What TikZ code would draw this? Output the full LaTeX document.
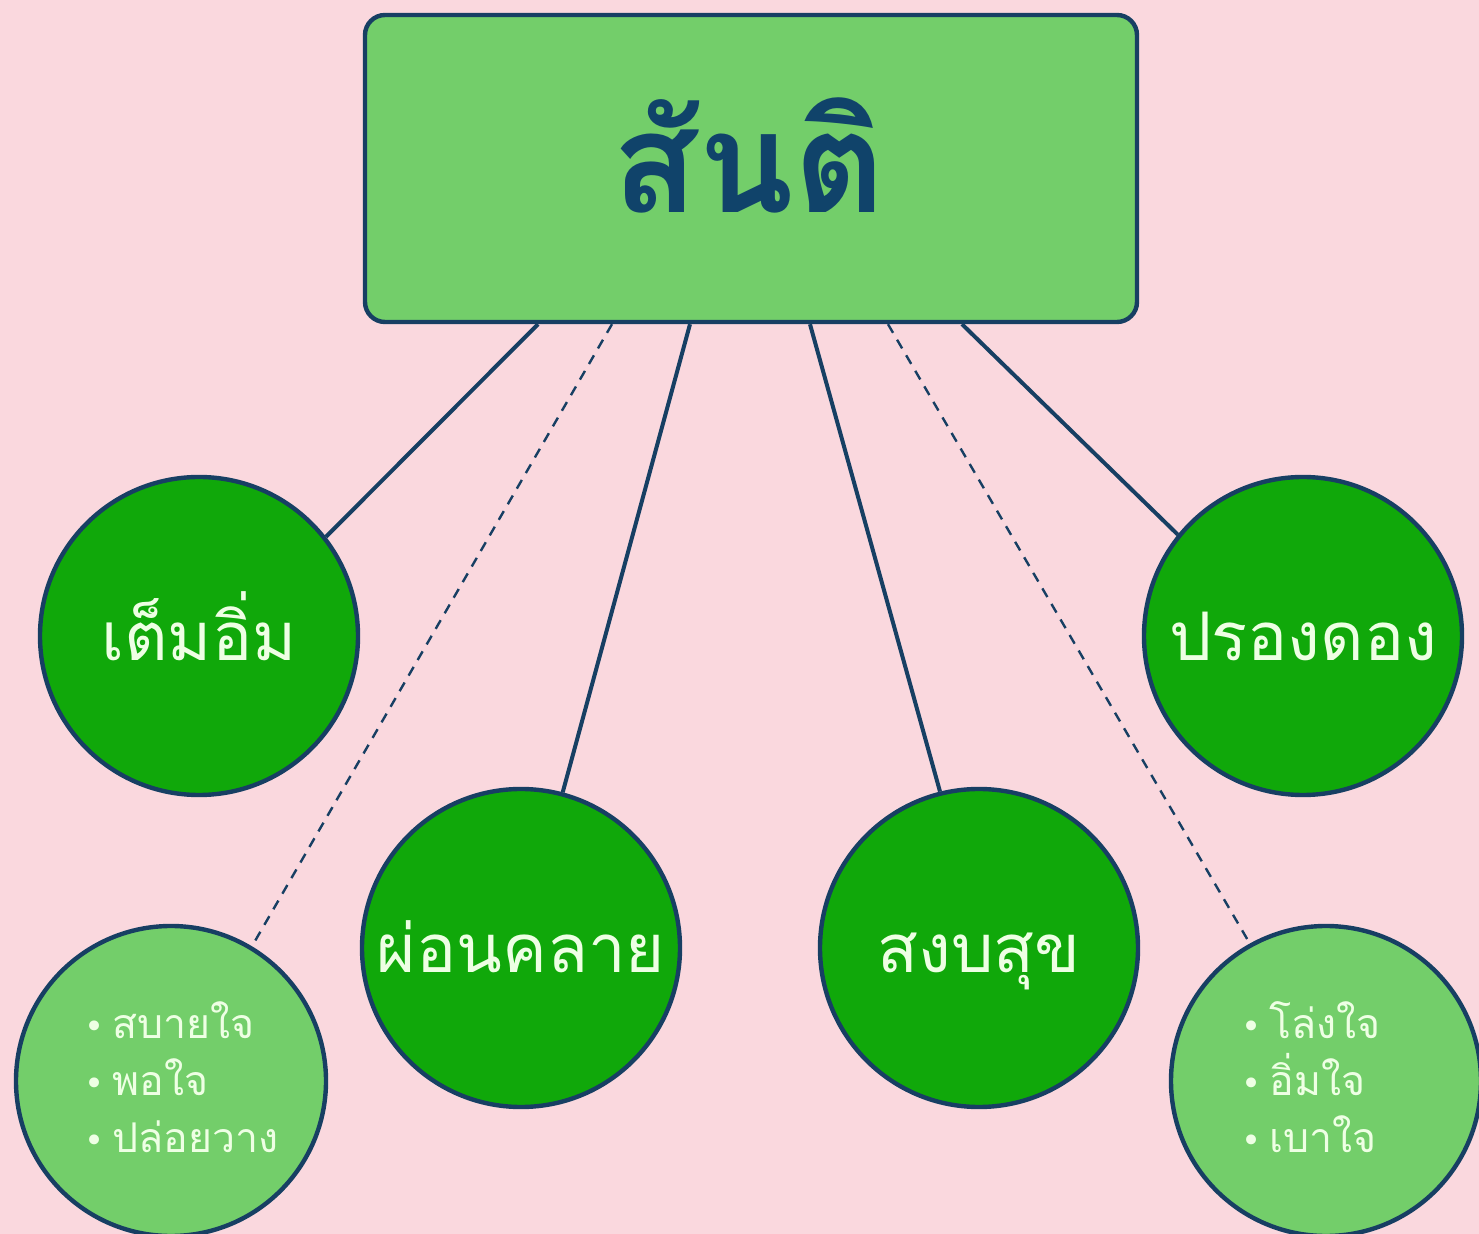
\documentclass[tikz,border=0pt]{standalone}
\usepackage{fontspec}
\newfontfamily\thaifont[Script=Thai]{Loma}
\newfontfamily\symfont{DejaVu Sans}
\usetikzlibrary{calc}
\definecolor{bg}{HTML}{FAD8DE}
\definecolor{navy}{HTML}{173F63}
\definecolor{titlec}{HTML}{10436A}
\definecolor{darkg}{HTML}{10A80A}
\definecolor{lightg}{HTML}{73CE6A}
\definecolor{txtc}{HTML}{EEFFE4}
\tikzset{
  topbox/.style={draw=navy, line width=2.2pt, fill=lightg, rounded corners=10pt,
    minimum width=386pt, minimum height=153.5pt, inner sep=0pt},
  bigcirc/.style={circle, draw=navy, line width=2.2pt, fill=darkg, minimum size=159pt,
    inner sep=0pt},
  clabel/.style={anchor=base, text=txtc, inner sep=0pt, font=\thaifont\fontsize{33.5}{38}\selectfont},
  smallcirc/.style={circle, draw=navy, line width=2.2pt, fill=lightg, minimum size=155pt,
    inner sep=0pt},
  bullets/.style={anchor=west, align=left, text=txtc, inner sep=0pt,
    font=\thaifont\fontsize{20.5}{28.5}\selectfont},
  conn/.style={draw=navy, line width=2pt},
  dconn/.style={draw=navy, line width=1.2pt, dash pattern=on 5pt off 4pt}
}
\newcommand{\bl}{{\symfont\fontsize{17}{17}\selectfont •}\hspace{4pt}}
\begin{document}
\begin{tikzpicture}[x=0.5pt,y=-0.5pt]
\useasboundingbox (0,0) rectangle (1479,1234);
\fill[bg] (0,0) rectangle (1479,1234);
\begin{scope}
\clip (0,0) rectangle (1479,1234);
\node[topbox] (top) at (751,168.5) {};
\node[text=titlec, font=\thaifont\bfseries\fontsize{70}{72}\selectfont, inner sep=0pt] (title) at (749,155) {สันติ};

\node[bigcirc] (c1) at (199,636) {};
\node[bigcirc] (c2) at (521,948) {};
\node[bigcirc] (c3) at (979,948) {};
\node[bigcirc] (c4) at (1303,636) {};
\node[clabel] (c1t) at ($(c1)+(0,25)$) {เต็มอิ่ม};
\node[clabel] (c2t) at ($(c2)+(0,25)$) {ผ่อนคลาย};
\node[clabel] (c3t) at ($(c3)+(0,25)$) {สงบสุข};
\node[clabel] (c4t) at ($(c4)+(0,25)$) {ปรองดอง};
\node[smallcirc] (l1) at (171,1081) {};
\node[smallcirc] (l2) at (1326,1081) {};
\node[bullets] (t1) at (84,1077) {\bl สบายใจ\\\bl พอใจ\\\bl ปล่อยวาง};
\node[bullets] (t2) at (1241,1077) {\bl โล่งใจ\\\bl อิ่มใจ\\\bl เบาใจ};

\draw[conn] ($(top.south)+(-213,0)$) -- (c1.38.3);
\draw[conn] ($(top.south)+(-61,0)$) -- (c2.75.9);
\draw[conn] ($(top.south)+(59,0)$) -- (c3.104.1);
\draw[conn] ($(top.south)+(211,0)$) -- (c4.141.3);
\draw[dconn] ($(top.south)+(-139,0)$) -- (l1.59.9);
\draw[dconn] ($(top.south)+(137,0)$) -- (l2.119);
\end{scope}
\end{tikzpicture}
\end{document}
